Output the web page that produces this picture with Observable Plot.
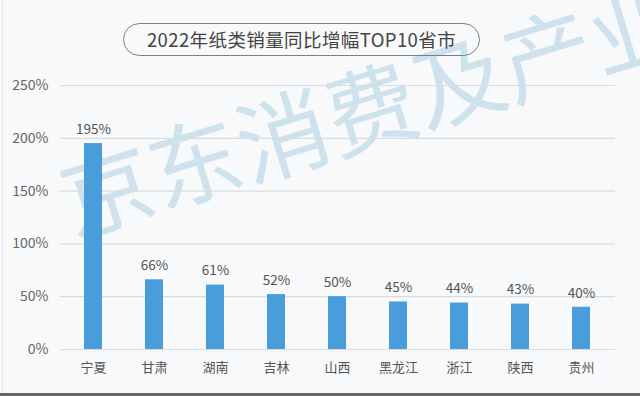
<!DOCTYPE html>
<html>
<head>
<meta charset="utf-8">
<script src="https://cdn.jsdelivr.net/npm/d3@7"></script>
<script src="https://cdn.jsdelivr.net/npm/@observablehq/plot@0.6"></script>
<style>
  html, body { margin: 0; padding: 0; background: #f7f9fa; }
  #wrap { position: relative; width: 640px; height: 396px; overflow: hidden; background: #f7f9fa;
          font-family: "Noto Sans CJK SC", "Noto Sans", sans-serif; }
  #wm { position: absolute; left: 48px; top: 154px; font-size: 92px; line-height: 1; letter-spacing: 0px;
        color: rgba(150, 195, 220, 0.42); white-space: nowrap; transform-origin: 0 0;
        transform: rotate(-17deg); pointer-events: none; font-weight: 400; }
  #title { position: absolute; left: 123px; top: 23px; width: 357px; height: 33px; box-sizing: border-box;
           border: 1.4px solid #7a7f85; border-radius: 17px; text-align: center; line-height: 30px;
           font-size: 18.5px; letter-spacing: 0.4px; color: #444; }
  #bottomline { position: absolute; left: 0; top: 393px; width: 640px; height: 3px; background: #666; }
  #leftline { position: absolute; left: 2px; top: 0; width: 1px; height: 393px; background: #e3e6e8; }
  #chart { position: absolute; left: 0; top: 0; }
</style>
</head>
<body>
<div id="wrap">
  <div id="leftline"></div>
  <div id="wm">京东消费及产业</div>
  <div id="chart"></div>
  <div id="title">2022年纸类销量同比增幅TOP10省市</div>
  <div id="bottomline"></div>
</div>
<script>
const provinces = ["宁夏", "甘肃", "湖南", "吉林", "山西", "黑龙江", "浙江", "陕西", "贵州"];
const growth = [195, 66, 61, 52, 50, 45, 44, 43, 40];
const yTicks = [0, 50, 100, 150, 200, 250];

const data = provinces.map((p, i) => ({province: p, value: growth[i]}));

const chart = Plot.plot({
  width: 640,
  height: 396,
  marginTop: 85,
  marginBottom: 47,
  marginLeft: 60,
  marginRight: 25,
  style: {background: "transparent", fontFamily: "\"Noto Sans CJK SC\", \"Noto Sans\", sans-serif", fontSize: "13px", color: "#555"},
  x: {domain: provinces, paddingInner: 0.7, paddingOuter: 0.35, label: null},
  y: {domain: [0, 250], label: null},
  marks: [
    Plot.gridY(yTicks, {stroke: "#d9dcdf", strokeOpacity: 1, strokeWidth: 1.2}),
    Plot.axisY(yTicks, {tickSize: 0, tickPadding: 12, tickFormat: d => d + "%", fontSize: 14, fill: "#666", label: null}),
    Plot.axisX({tickSize: 0, tickPadding: 13, fontSize: 13, fill: "#555", label: null}),
    Plot.barY(data, {x: "province", y: "value", fill: "#4a9ddb"}),
    Plot.text(data, {x: "province", y: "value", text: d => d.value + "%", dy: -14, fontSize: 13.5, fill: "#555"})
  ]
});
document.getElementById("chart").appendChild(chart);
</script>
</body>
</html>
